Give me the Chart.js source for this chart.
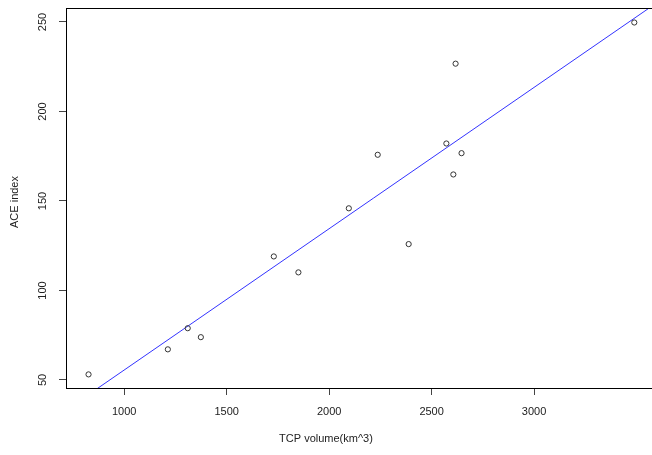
<!DOCTYPE html>
<html>
<head>
<meta charset="utf-8">
<script src="https://cdn.jsdelivr.net/npm/chart.js@4"></script>
<style>
  html, body { margin: 0; padding: 0; background: #fff; overflow: hidden; }
  #wrap { width: 660px; height: 455px; }
</style>
</head>
<body>
<div id="wrap"><canvas id="plot" width="660" height="455"></canvas></div>
<script>
// values
const tcpVolume = [826, 1213, 1310, 1374, 1730, 1850, 2096, 2237, 2388, 2572, 2606, 2617, 2646, 3489];
const aceIndex  = [53.1, 67.1, 78.9, 73.9, 119.0, 110.1, 145.9, 175.8, 125.9, 182.1, 164.8, 226.7, 176.7, 249.7];
const xTicks = [1000, 1500, 2000, 2500, 3000];
const yTicks = [50, 100, 150, 200, 250];
// fitted line (abline)
const fitIntercept = -23.4;
const fitSlope = 0.07895;

const xMin = 716, xMax = 3590;
const yMin = 45.5, yMax = 257.8;

const fitLine = [xMin, xMax].map(x => ({ x: x, y: fitIntercept + fitSlope * x }));

const FONT = "Arial, 'Liberation Sans', sans-serif";

// box, y tick labels and axis titles, drawn like base R does
const rStyle = {
    id: "rStyle",
    afterDraw(chart) {
        const ctx = chart.ctx;
        const a = chart.chartArea;
        ctx.save();
        ctx.strokeStyle = "#000";
        ctx.lineWidth = 1;
        ctx.strokeRect(Math.round(a.left) + 0.5, Math.round(a.top) + 0.5,
                       Math.round(a.right - a.left), Math.round(a.bottom - a.top));

        ctx.fillStyle = "#222";
        ctx.font = "11px " + FONT;
        ctx.textAlign = "center";
        ctx.textBaseline = "middle";
        const ys = chart.scales.y;
        yTicks.forEach(v => {
            const py = ys.getPixelForValue(v);
            ctx.save();
            ctx.translate(43, py);
            ctx.rotate(-Math.PI / 2);
            ctx.fillText(String(v), 0, 0);
            ctx.restore();
        });

        ctx.fillText("TCP volume(km^3)", 326, 439);
        ctx.save();
        ctx.translate(15, 202);
        ctx.rotate(-Math.PI / 2);
        ctx.fillText("ACE index", 0, 0);
        ctx.restore();
        ctx.restore();
    }
};

new Chart(document.getElementById("plot"), {
    type: "scatter",
    data: {
        datasets: [
            {
                label: "ACE",
                data: tcpVolume.map((x, i) => ({ x: x, y: aceIndex[i] })),
                pointStyle: "circle",
                pointRadius: 2.6,
                pointBorderWidth: 1,
                pointBorderColor: "#333",
                pointBackgroundColor: "rgba(0,0,0,0)",
                showLine: false
            },
            {
                label: "fit",
                type: "line",
                data: fitLine,
                borderColor: "#3333ff",
                borderWidth: 1,
                pointRadius: 0,
                fill: false
            }
        ]
    },
    options: {
        responsive: false,
        animation: false,
        events: [],
        layout: { padding: { top: 8, right: 4, left: 0, bottom: 0 } },
        plugins: { legend: { display: false }, tooltip: { enabled: false } },
        scales: {
            x: {
                type: "linear",
                min: xMin,
                max: xMax,
                afterBuildTicks: s => { s.ticks = xTicks.map(v => ({ value: v })); },
                afterFit: s => { s.height = 67; },
                grid: { drawOnChartArea: false, drawTicks: true, tickLength: 7, color: "#444" },
                border: { display: false },
                ticks: {
                    color: "#222",
                    font: { family: FONT, size: 11 },
                    padding: 10,
                    maxRotation: 0,
                    callback: v => String(v)
                }
            },
            y: {
                type: "linear",
                min: yMin,
                max: yMax,
                afterBuildTicks: s => { s.ticks = yTicks.map(v => ({ value: v })); },
                afterFit: s => { s.width = 66; },
                grid: { drawOnChartArea: false, drawTicks: true, tickLength: 7, color: "#444" },
                border: { display: false },
                ticks: { display: false }
            }
        }
    },
    plugins: [rStyle]
});
</script>
</body>
</html>
